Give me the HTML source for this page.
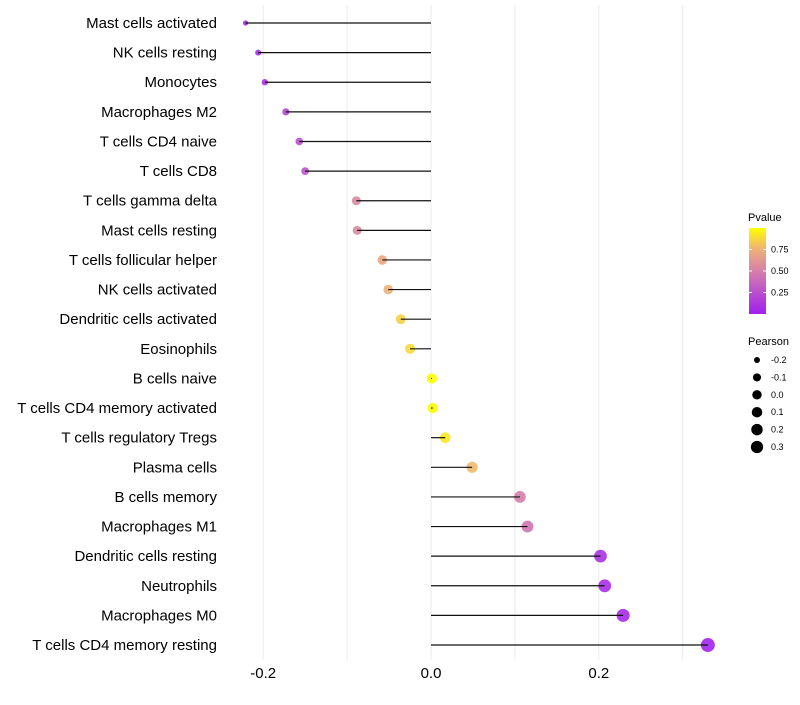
<!DOCTYPE html>
<html><head><meta charset="utf-8"><style>
body{margin:0;background:#fff;}
svg text{font-family:"Liberation Sans",sans-serif;}
</style></head><body>
<svg id="chart" width="800" height="700"></svg>
<script>
const categories=["Mast cells activated","NK cells resting","Monocytes","Macrophages M2","T cells CD4 naive","T cells CD8","T cells gamma delta","Mast cells resting","T cells follicular helper","NK cells activated","Dendritic cells activated","Eosinophils","B cells naive","T cells CD4 memory activated","T cells regulatory  Tregs ","Plasma cells","B cells memory","Macrophages M1","Dendritic cells resting","Neutrophils","Macrophages M0","T cells CD4 memory resting"];
const pearson=[-0.221,-0.206,-0.198,-0.173,-0.157,-0.150,-0.089,-0.088,-0.058,-0.051,-0.036,-0.025,0.001,0.002,0.017,0.049,0.106,0.115,0.202,0.207,0.229,0.330];
const pvalue=[0.05,0.08,0.1,0.2,0.25,0.27,0.55,0.55,0.7,0.75,0.85,0.88,0.99,0.99,0.93,0.78,0.5,0.45,0.1,0.08,0.05,0.02];
const xTicks=[-0.2,0.0,0.2];
const xGrid=[-0.2,-0.1,0,0.1,0.2,0.3];
const pTicks=[0.25,0.5,0.75];
const sizeTicks=[-0.2,-0.1,0.0,0.1,0.2,0.3];

const NS="http://www.w3.org/2000/svg";
const svg=document.getElementById('chart');
const xs=v=>431+v*839;
const ys=i=>23+i*29.62;
const rs=v=>2+5*Math.sqrt(Math.max(0,(v+0.23)/0.56));
function lerp(a,b,t){return a.map((x,i)=>Math.round(x+(b[i]-x)*t));}
const stops=[[0,[160,32,240]],[0.5,[212,128,170]],[0.75,[238,176,120]],[1,[255,255,0]]];
function col(p){for(let i=0;i<stops.length-1;i++){const[a,ca]=stops[i],[b,cb]=stops[i+1];if(p<=b){const c=lerp(ca,cb,(p-a)/(b-a));return`rgb(${c})`;}}return'rgb(255,255,0)';}
function mk(t,attrs,parent){const e=document.createElementNS(NS,t);for(const k in attrs)e.setAttribute(k,attrs[k]);(parent||svg).appendChild(e);return e;}

xGrid.forEach(v=>{const g=mk('line',{x1:xs(v),x2:xs(v),y1:5,y2:660,stroke:'#ebebeb','stroke-width':1});

});
xTicks.forEach(v=>{const t=mk('text',{x:xs(v),y:678,'text-anchor':'middle','font-size':15,fill:'#000'});t.textContent=v.toFixed(1);

});
categories.forEach((c,i)=>{
const y=ys(i);
const t=mk('text',{x:217,y:y+5,'text-anchor':'end','font-size':15,fill:'#000'});t.textContent=c;


const p=mk('circle',{cx:xs(pearson[i]),cy:y,r:rs(pearson[i]),fill:col(pvalue[i]),'fill-opacity':0.9});


const l=mk('line',{x1:xs(0),x2:xs(pearson[i]),y1:y,y2:y,stroke:'#111','stroke-width':1.2});


});
const defs=mk('defs',{});
const lg=mk('linearGradient',{id:'pg',x1:0,y1:1,x2:0,y2:0},defs);
stops.forEach(s=>mk('stop',{offset:s[0],'stop-color':`rgb(${s[1]})`},lg));
const lt=mk('text',{x:748,y:221,'font-size':11,fill:'#000'});lt.textContent='Pvalue';


const bar=mk('rect',{x:749,y:228,width:17,height:86,fill:'url(#pg)'});


pTicks.forEach(p=>{const y=314-p*86;
mk('line',{x1:749,x2:752,y1:y,y2:y,stroke:'#fff'});mk('line',{x1:763,x2:766,y1:y,y2:y,stroke:'#fff'});
const t=mk('text',{x:771,y:y+3,'font-size':9,fill:'#000'});t.textContent=p.toFixed(2);

});
const st=mk('text',{x:748,y:345,'font-size':11,fill:'#000'});st.textContent='Pearson';


sizeTicks.forEach((v,i)=>{const y=360+i*17.4;
const c=mk('circle',{cx:757,cy:y,r:rs(v)*0.85+0.3,fill:'#000'});


const t=mk('text',{x:771,y:y+3,'font-size':9,fill:'#000'});t.textContent=v.toFixed(1);

});
</script>
</body></html>
